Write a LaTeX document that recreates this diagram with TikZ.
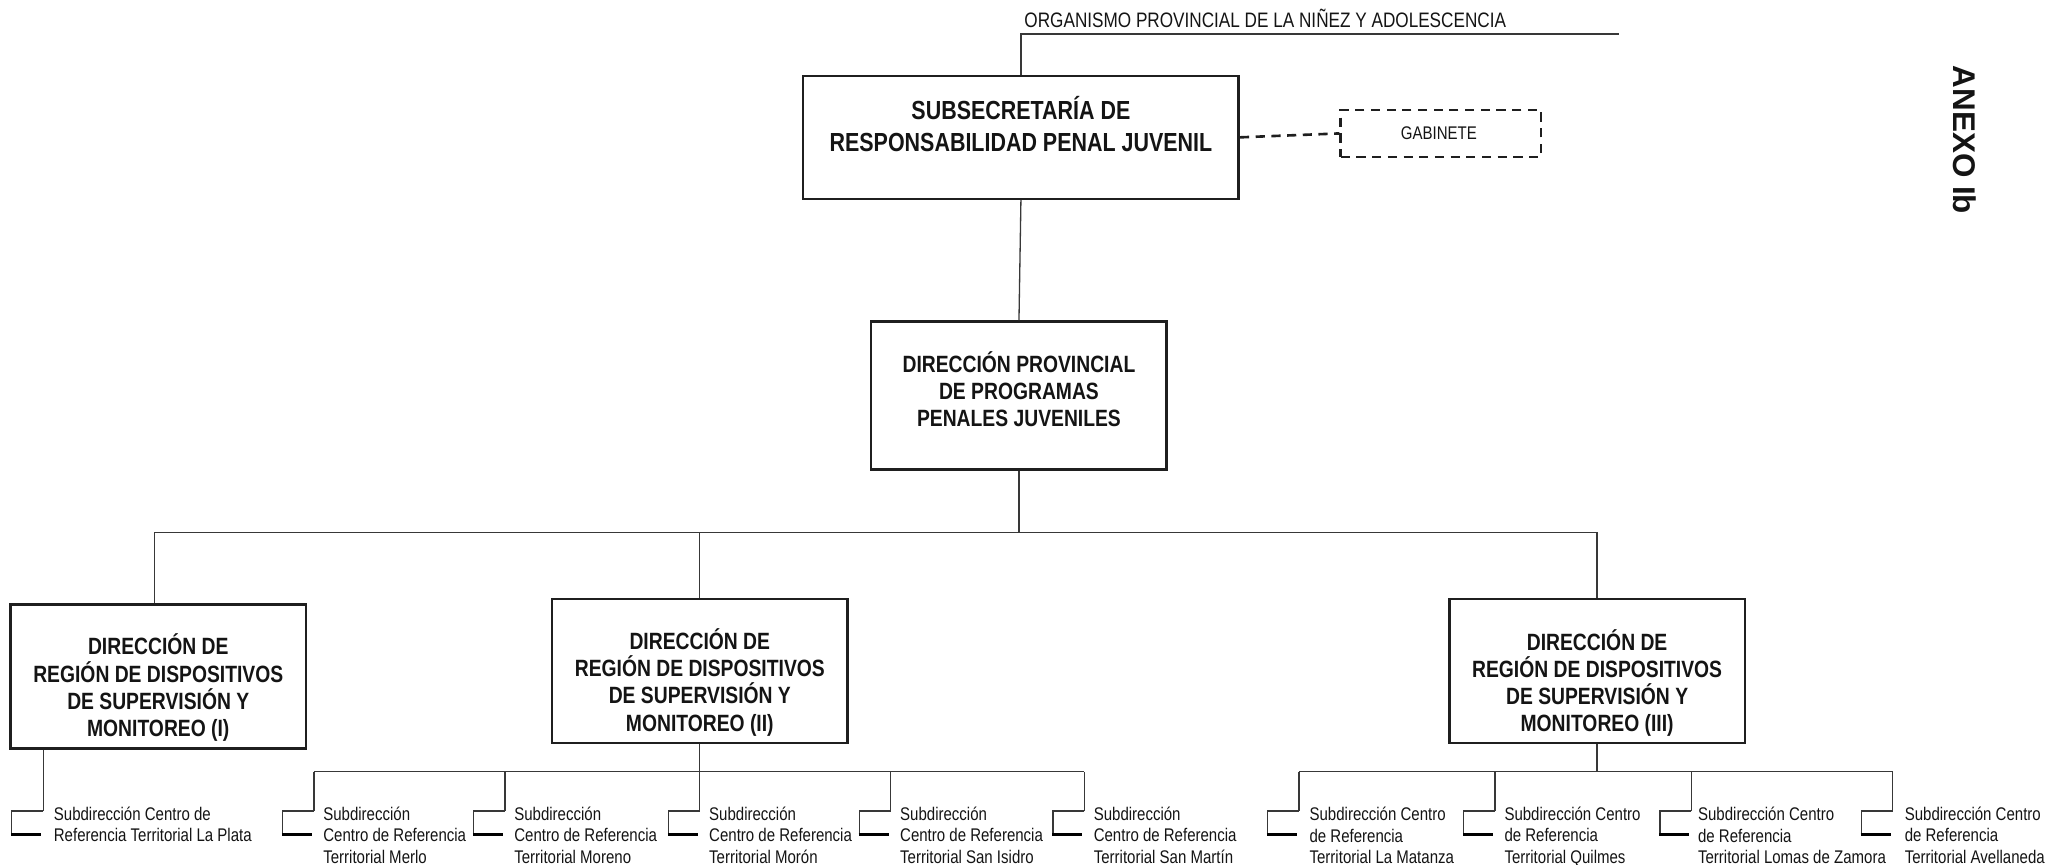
\documentclass[tikz,border=0pt]{standalone}
\usepackage{fontspec}
\setmainfont{Liberation Sans}
\newfontfamily\narrowf[FakeStretch=0.82]{Liberation Sans}
\usetikzlibrary{calc}
\begin{document}
\begin{tikzpicture}[x=1pt,y=-1pt,
  box/.style={draw=black!88, line width=2pt, rectangle, inner sep=0pt},
  dbox/.style={draw=black!88, line width=2pt, rectangle, inner sep=0pt, dash pattern=on 7pt off 5pt},
  con/.style={draw=black!78, line width=1pt},
  dcon/.style={draw=black!88, line width=2pt, dash pattern=on 7pt off 5pt},
  tick/.style={draw=black, line width=2.4pt},
  bigt/.style={font=\narrowf\bfseries\fontsize{18}{20.8}\selectfont, align=center, text=black!92, inner sep=0pt, anchor=base},
  subsect/.style={font=\narrowf\bfseries\fontsize{20}{25}\selectfont, align=center, text=black!92, inner sep=0pt, anchor=base},
  subt/.style={font=\narrowf\fontsize{14}{16.5}\selectfont, align=left, text=black!92, inner sep=0pt, anchor=base west},
]
\useasboundingbox (0,0) rectangle (1568,661);

% top organism label
\node[font=\narrowf\fontsize{16}{19}\selectfont, text=black!92, inner sep=0pt, anchor=base west] (org) at (783,21) {ORGANISMO PROVINCIAL DE LA NIÑEZ Y ADOLESCENCIA};
\coordinate (orgR) at (1238,26);

% ANEXO
\node[font=\bfseries\fontsize{24}{28}\selectfont, rotate=-90, inner sep=0pt, text=black!92] (anexo) at (1502,107) {ANEXO Ib};

% main boxes (text node base = last line baseline)
\node[box, minimum width=333pt, minimum height=94pt] (sub) at (780.5,105) {};
\node[subsect] (subT) at (780.5,116) {SUBSECRETARÍA DE\\RESPONSABILIDAD PENAL JUVENIL};

\node[dbox, minimum width=153pt, minimum height=36pt] (gab) at (1101.5,102) {};
\node[font=\narrowf\fontsize{14}{16}\selectfont, text=black!92, inner sep=0pt] (gabT) at (1100,102) {GABINETE};

\node[box, minimum width=226pt, minimum height=113pt] (dp) at (779,302.5) {};
\node[bigt] (dpT) at (779,326) {DIRECCIÓN PROVINCIAL\\DE PROGRAMAS\\PENALES JUVENILES};

\node[box, minimum width=226pt, minimum height=110pt] (b1) at (121,517) {};
\node[bigt] (b1T) at (121,563) {DIRECCIÓN DE\\REGIÓN DE DISPOSITIVOS\\DE SUPERVISIÓN Y\\MONITOREO (I)};

\node[box, minimum width=226pt, minimum height=110pt] (b2) at (535,513) {};
\node[bigt] (b2T) at (535,559) {DIRECCIÓN DE\\REGIÓN DE DISPOSITIVOS\\DE SUPERVISIÓN Y\\MONITOREO (II)};

\node[box, minimum width=226pt, minimum height=110pt] (b3) at (1221,513) {};
\node[bigt] (b3T) at (1221,559.5) {DIRECCIÓN DE\\REGIÓN DE DISPOSITIVOS\\DE SUPERVISIÓN Y\\MONITOREO (III)};

% upper connectors
\draw[con] (sub.north) -- (sub.north |- orgR) -- (orgR);
\draw[dcon] (sub.east) -- (gab.west);
\draw[con] (sub.south) -- (dp.north);
\coordinate (busL) at (118,407);
\coordinate (busR) at (1221,407);
\draw[con] (dp.south) -- (dp.south |- busL);
\draw[con] (busL) -- (busR);
\draw[con] (busL) -- (busL |- b1.north);
\draw[con] (b2.north |- busL) -- (b2.north);
\draw[con] (busR) -- (b3.north);

% sub-item elbows
\foreach \n/\v in {e1/33, e21/240, e22/386, e23/535, e24/681, e25/829, e31/993, e32/1143, e33/1293, e34/1447}{
  \coordinate (\n) at (\v,620);
}
% group I
\draw[con] (e1 |- b1.south) -- (e1);
% group II
\coordinate (bus2L) at (240,590);
\coordinate (bus2R) at (829,590);
\draw[con] (bus2L) -- (bus2R);
\draw[con] (b2.south) -- (e23);
\foreach \n in {e21,e22,e24,e25}{ \draw[con] (\n |- bus2L) -- (\n); }
% group III
\coordinate (bus3L) at (993,590);
\coordinate (bus3R) at (1447,590);
\draw[con] (bus3L) -- (bus3R);
\draw[con] (b3.south) -- (b3.south |- bus3L);
\foreach \n in {e31,e32,e33,e34}{ \draw[con] (\n |- bus3L) -- (\n); }
% brackets
\foreach \n in {e1,e21,e22,e23,e24,e25,e31,e32,e33,e34}{
  \draw[con] (\n) -- ++(-24,0) -- ++(0,18);
  \draw[tick] ($(\n)+(-24.5,18)$) -- ++(23,0);
}

% sub-item texts
\node[subt] (t1) at ($(e1)+(8,23.5)$) {Subdirección Centro de\\Referencia Territorial La Plata};
\node[subt] (t21) at ($(e21)+(7,40)$) {Subdirección\\Centro de Referencia\\Territorial Merlo};
\node[subt] (t22) at ($(e22)+(7,40)$) {Subdirección\\Centro de Referencia\\Territorial Moreno};
\node[subt] (t23) at ($(e23)+(7,40)$) {Subdirección\\Centro de Referencia\\Territorial Morón};
\node[subt] (t24) at ($(e24)+(7,40)$) {Subdirección\\Centro de Referencia\\Territorial San Isidro};
\node[subt] (t25) at ($(e25)+(7,40)$) {Subdirección\\Centro de Referencia\\Territorial San Martín};
\node[subt] (t31) at ($(e31)+(8,40.3)$) {Subdirección Centro\\de Referencia\\Territorial La Matanza};
\node[subt] (t32) at ($(e32)+(7,40)$) {Subdirección Centro\\de Referencia\\Territorial Quilmes};
\node[subt] (t33) at ($(e33)+(5,40.3)$) {Subdirección Centro\\de Referencia\\Territorial Lomas de Zamora};
\node[subt] (t34) at ($(e34)+(9,40)$) {Subdirección Centro\\de Referencia\\Territorial Avellaneda};
\end{tikzpicture}
\end{document}
